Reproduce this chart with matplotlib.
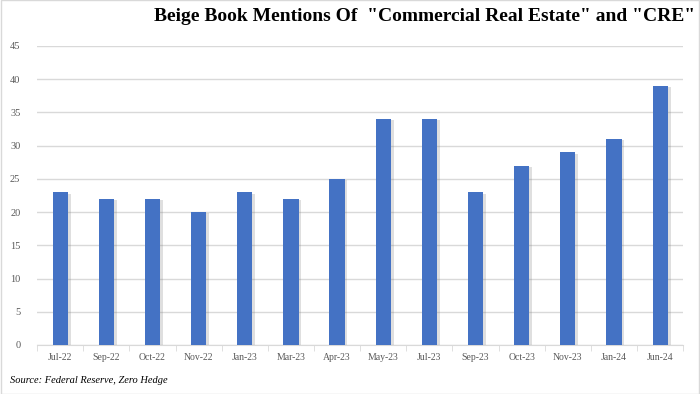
import numpy as np
import matplotlib.pyplot as plt
import matplotlib.patheffects as pe
from matplotlib.patches import Rectangle

labels = ['Jul-22', 'Sep-22', 'Oct-22', 'Nov-22', 'Jan-23', 'Mar-23', 'Apr-23',
          'May-23', 'Jul-23', 'Sep-23', 'Oct-23', 'Nov-23', 'Jan-24', 'Jun-24']
mentions = [23, 22, 22, 20, 23, 22, 25, 34, 34, 23, 27, 29, 31, 39]

serif = ['Liberation Serif', 'DejaVu Serif']

fig = plt.figure(figsize=(7, 3.94), dpi=100)
ax = fig.add_axes([0.053, 0.1244, 0.923, 0.759])

x = np.arange(len(labels))
bars = ax.bar(x, mentions, width=0.33, color='#4472C4', zorder=3)
for b in bars:
    b.set_path_effects([pe.SimplePatchShadow(offset=(2, -1), shadow_rgbFace='#808080', alpha=0.25),
                        pe.Normal()])

ax.set_xlim(-0.5, len(labels) - 0.5)
ax.set_ylim(0, 45)
ax.set_yticks(np.arange(0, 46, 5))
ax.yaxis.grid(True, color='#d9d9d9', linewidth=1, zorder=0)
ax.set_axisbelow(True)

ax.set_xticks(x)
ax.set_xticklabels(labels, fontfamily=serif, fontsize=7, color='#595959')
ax.set_xticks(np.arange(-0.5, len(labels), 1), minor=True)
ax.tick_params(axis='x', which='major', length=0, pad=6)
ax.tick_params(axis='x', which='minor', length=4, color='#d9d9d9')
ax.tick_params(axis='y', length=0, pad=12, labelsize=7.5, labelcolor='#595959')
for t in ax.get_yticklabels():
    t.set_fontfamily(serif)

for s in ['top', 'right', 'left']:
    ax.spines[s].set_visible(False)
ax.spines['bottom'].set_color('#d9d9d9')

fig.text(0.993, 0.958, 'Beige Book Mentions Of  "Commercial Real Estate" and "CRE"',
         ha='right', va='center', fontsize=14, fontweight='bold', fontfamily=serif)
fig.text(0.014, 0.033, 'Source: Federal Reserve, Zero Hedge', ha='left', va='center',
         fontsize=7.5, style='italic', fontfamily=serif)

fig.patches.append(Rectangle((0.001, 0.001), 0.998, 0.998, transform=fig.transFigure,
                             fill=False, edgecolor='#d9d9d9', linewidth=1))

fig.savefig('out.png', dpi=100)
